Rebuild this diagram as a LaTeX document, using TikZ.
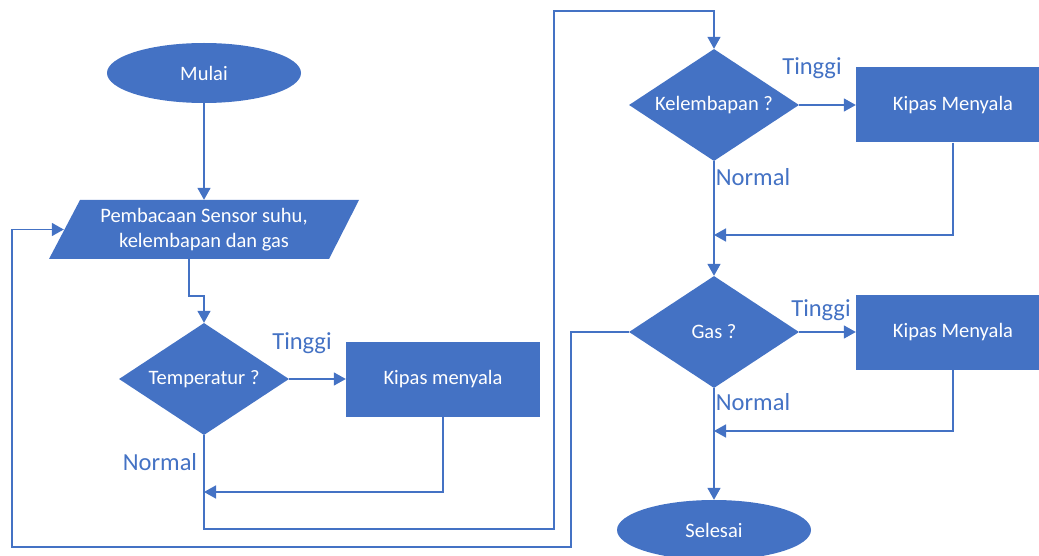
\documentclass[tikz,border=0pt]{standalone}
\usepackage{fontspec}
\setmainfont{Carlito}
\usetikzlibrary{shapes.geometric, arrows.meta}
\definecolor{officeblue}{HTML}{4472C4}

\begin{document}
\begin{tikzpicture}[x = 1pt, y = -1pt,
	shapebox/.style = {fill = officeblue, text = white, inner sep = 0pt, font = \fontsize{20.5}{25}\selectfont},
	startstop/.style = {shapebox, ellipse, minimum width = 194, minimum height = 60},
	iobox/.style = {shapebox, fill = none, rectangle, minimum width = 280, minimum height = 59, align = center},
	decision/.style = {shapebox, diamond, aspect = 1.52, minimum width = 170, minimum height = 112},
	process/.style = {shapebox, rectangle, minimum width = 194, minimum height = 75},
	answer/.style = {text = officeblue, font = \fontsize{24.5}{28}\selectfont}]

	\useasboundingbox (0, 0) rectangle (1039, 556);

	% Slanted input box behind the sensor text

	\fill [officeblue] (80, 200) -- (359, 200) -- (329, 259) -- (49, 259) -- cycle;

	% Flowchart blocks

	\node [startstop] (start) at (204, 73) {Mulai};
	\node [iobox] (sensor) at (204, 229.5) {Pembacaan Sensor suhu,\\kelembapan dan gas};
	\node [decision] (temp) at (204, 379) {Temperatur ?};
	\node [process] (fan1) at (443, 379) {Kipas menyala};
	\node [decision] (hum) at (714, 105) {Kelembapan ?};
	\node [process] (fan2) at (953, 105) {Kipas Menyala};
	\node [decision] (gas) at (714, 332) {Gas ?};
	\node [process] (fan3) at (953, 332) {Kipas Menyala};
	\node [startstop] (stop) at (714, 530) {Selesai};

	% Answers on the branches

	\node [answer] (tinggi1) at (302, 343) {Tinggi};
	\node [answer] (normal1) at (160, 462) {Normal};
	\node [answer] (tinggi2) at (812, 68) {Tinggi};
	\node [answer] (normal2) at (753, 177) {Normal};
	\node [answer] (tinggi3) at (821, 310) {Tinggi};
	\node [answer] (normal3) at (753, 402) {Normal};

	% Points where the loops come back

	\coordinate (back1) at (204, 492);
	\coordinate (back2) at (714, 235);
	\coordinate (back3) at (714, 431);

	% Connectors

	\begin{scope}[> = {Triangle[length = 12pt, width = 13pt]}, officeblue, line width = 1.6pt]

		\draw [->] (start.south) -- (sensor.north);
		\draw [->] ([xshift = -15pt] sensor.south) -- ++(0, 37) -| (temp.north);

		\draw [->] (temp.east) -- (fan1.west);
		\draw [->] (fan1.south) |- (back1);
		\draw [->] (temp.south) |- (554, 529) -- (554, 11) -| (hum.north);

		\draw [->] (hum.east) -- (fan2.west);
		\draw [->] (fan2.south) |- (back2);
		\draw [->] (hum.south) -- (gas.north);

		\draw [->] (gas.east) -- (fan3.west);
		\draw [->] (fan3.south) |- (back3);
		\draw [->] (gas.south) -- (stop.north);

		\draw [->] (gas.west) -| (571, 547) -- (12, 547) |- (sensor.west);

	\end{scope}

\end{tikzpicture}
\end{document}
